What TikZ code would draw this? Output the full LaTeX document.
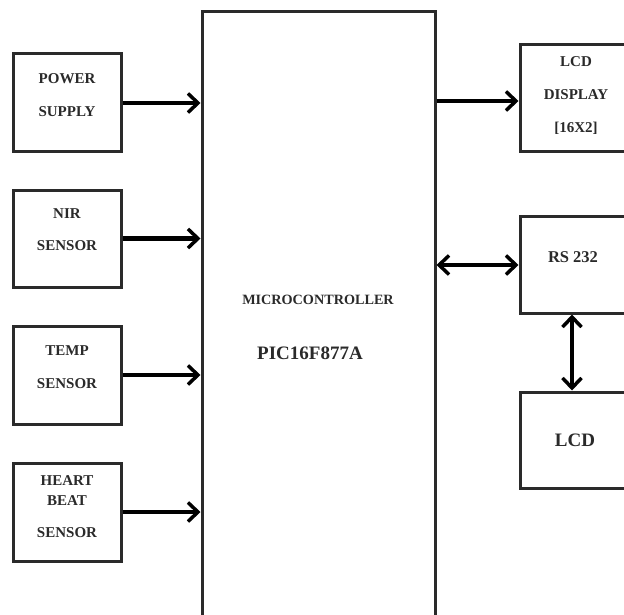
\documentclass[tikz,border=0pt]{standalone}
\usepackage{fontspec}
\setmainfont{Liberation Serif}
\usetikzlibrary{arrows.meta}
\definecolor{ink}{HTML}{2A2A2A}
\tikzset{barbtip/.tip={Straight Barb[length=10pt,width=19pt,line width=3.5pt]}}
\begin{document}
\begin{tikzpicture}[x=1pt,y=-1pt,
  blk/.style={draw=ink, line width=3pt, inner sep=0pt, fill=white},
  lbl/.style={font=\bfseries\fontsize{15}{17}\selectfont, text=ink, inner sep=0pt},
  big/.style={font=\bfseries\fontsize{19}{21}\selectfont, text=ink, inner sep=0pt},
  arr/.style={draw=black, line width=4.5pt, -{barbtip}},
  darr/.style={draw=black, line width=4.5pt, {barbtip}-{barbtip}}]
\useasboundingbox (0,0) rectangle (624,615);
\clip (0,0) rectangle (624,615);
\fill[white] (0,0) rectangle (624,615);
% microcontroller
\node[blk, minimum width=233pt, minimum height=630pt] (mc) at (318.5,327) {};
\node[lbl, font=\bfseries\fontsize{14.2}{16}\selectfont] (mct) at (318,300) {MICROCONTROLLER};
\node[big] (pic) at (310,353) {PIC16F877A};
% left blocks
\node[blk, minimum width=108pt, minimum height=98pt] (ps) at (67,103) {};
\node[lbl] (ps1) at (67,79) {POWER};
\node[lbl] (ps2) at (67,112) {SUPPLY};
\node[blk, minimum width=108pt, minimum height=97pt] (nir) at (67,238.5) {};
\node[lbl] (nir1) at (67,214) {NIR};
\node[lbl] (nir2) at (67,246) {SENSOR};
\node[blk, minimum width=108pt, minimum height=98pt] (tmp) at (67,375) {};
\node[lbl] (tmp1) at (67,351) {TEMP};
\node[lbl] (tmp2) at (67,384) {SENSOR};
\node[blk, minimum width=108pt, minimum height=98pt] (hb) at (67,512) {};
\node[lbl] (hb1) at (67,481) {HEART};
\node[lbl] (hb2) at (67,501) {BEAT};
\node[lbl] (hb3) at (67,533) {SENSOR};
% right blocks
\node[blk, minimum width=130pt, minimum height=107pt] (lcdd) at (585,98.5) {};
\node[lbl] (l1) at (576,62) {LCD};
\node[lbl] (l2) at (576,95) {DISPLAY};
\node[lbl] (l3) at (576,128) {[16X2]};
\node[blk, minimum width=130pt, minimum height=97pt] (rs) at (585,264.5) {};
\node[lbl, font=\bfseries\fontsize{16.5}{18}\selectfont] (rst) at (573,257) {RS 232};
\node[blk, minimum width=130pt, minimum height=96pt] (lcd) at (585,440) {};
\node[big] (lcdt) at (575,440) {LCD};
% connectors
\draw[arr] (ps.east) -- (ps.east -| mc.west);
\draw[arr] (nir.east) -- (nir.east -| mc.west);
\draw[arr] (tmp.east) -- (tmp.east -| mc.west);
\draw[arr] (hb.east) -- (hb.east -| mc.west);
\coordinate (a1) at (mc.east |- 0,101);
\draw[arr] (a1) -- (a1 -| lcdd.west);
\coordinate (a2) at (mc.east |- 0,265);
\draw[darr] (a2) -- (a2 -| rs.west);
\coordinate (a3) at (572,0);
\draw[darr] (a3 |- rs.south) -- (a3 |- lcd.north);
\end{tikzpicture}
\end{document}
